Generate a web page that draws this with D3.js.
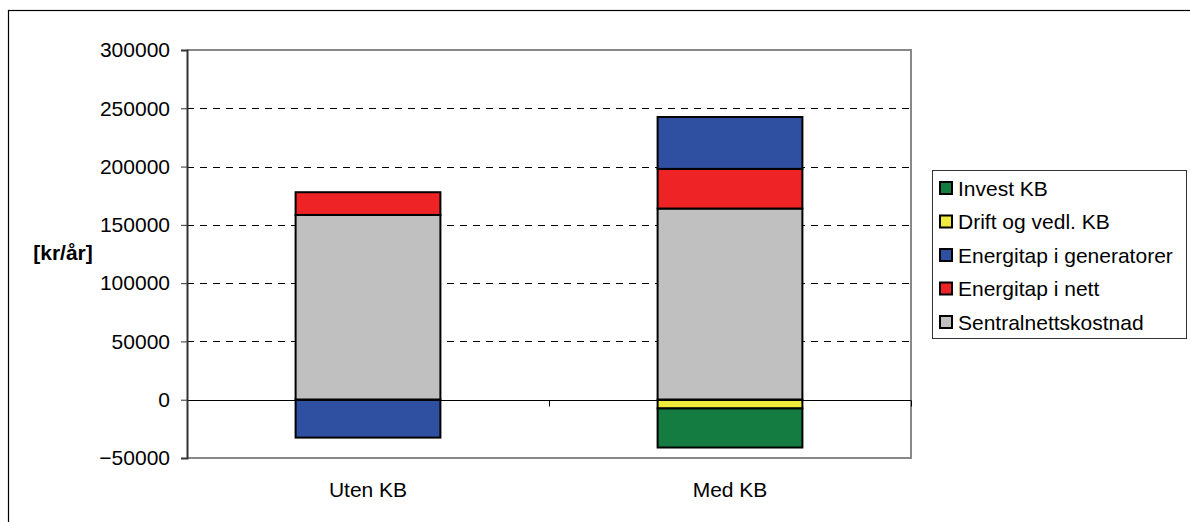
<!DOCTYPE html>
<html>
<head>
<meta charset="utf-8">
<script src="https://cdn.jsdelivr.net/npm/d3@7"></script>
<style>
  body { margin: 0; background: #fff; }
  svg { display: block; font-family: "Liberation Sans", Arial, sans-serif; }
</style>
</head>
<body>
<svg id="vis" width="1190" height="522"></svg>
<script>
// chart data
const categories = ["Uten KB", "Med KB"];
const seriesNames = ["Sentralnettskostnad", "Energitap i nett", "Energitap i generatorer", "Drift og vedl. KB", "Invest KB"];
const sentralnett = [158500, 164000];
const tapNett = [19500, 34000];
const tapGenerator = [-32500, 44500];
const driftKB = [0, -7500];
const investKB = [0, -33500];
const yTicks = [-50000, 0, 50000, 100000, 150000, 200000, 250000, 300000];

const colors = {
  "Sentralnettskostnad": "#c0c0c0",
  "Energitap i nett": "#ee2326",
  "Energitap i generatorer": "#2f4fa0",
  "Drift og vedl. KB": "#efeb3d",
  "Invest KB": "#147c40"
};

const fontSize = 21;

const seriesValues = [sentralnett, tapNett, tapGenerator, driftKB, investKB];
const rows = categories.map((c, i) => {
  const r = { cat: c };
  seriesNames.forEach((s, j) => r[s] = seriesValues[j][i]);
  return r;
});

const svg = d3.select("svg#vis");
const plot = { left: 187, right: 911, top: 50, bottom: 458 };

// outer frame (only top/left visible)
svg.append("rect")
  .attr("x", 8.5).attr("y", 10.5)
  .attr("width", 1200).attr("height", 600)
  .attr("fill", "none").attr("stroke", "#000").attr("stroke-width", 1.2);

const x = d3.scaleBand()
  .domain(categories)
  .range([plot.left, plot.right])
  .paddingInner(0.6)
  .paddingOuter(0.3);

const y = d3.scaleLinear()
  .domain([-50000, 300000])
  .range([plot.bottom, plot.top]);

// gridlines
svg.append("g").selectAll("line")
  .data(yTicks.filter(d => d > 0 && d < 300000))
  .enter().append("line")
  .attr("x1", plot.left).attr("x2", plot.right)
  .attr("y1", d => Math.round(y(d)) + 0.5).attr("y2", d => Math.round(y(d)) + 0.5)
  .attr("stroke", "#000").attr("stroke-width", 1)
  .attr("stroke-dasharray", "7,6");

// plot border top/right/bottom
svg.append("path")
  .attr("d", `M${plot.left},${plot.top}H${plot.right}V${plot.bottom}H${plot.left}`)
  .attr("fill", "none").attr("stroke", "#888").attr("stroke-width", 2);

// stacked bars
const stack = d3.stack().keys(seriesNames).offset(d3.stackOffsetDiverging);
const stacked = stack(rows);

svg.append("g").selectAll("g")
  .data(stacked)
  .enter().append("g")
  .attr("fill", d => colors[d.key])
  .selectAll("rect")
  .data(d => d.filter(p => p[1] !== p[0]))
  .enter().append("rect")
  .attr("x", d => x(d.data.cat))
  .attr("width", x.bandwidth())
  .attr("y", d => y(d[1]))
  .attr("height", d => y(d[0]) - y(d[1]))
  .attr("stroke", "#000").attr("stroke-width", 2);

// zero line
const y0 = Math.round(y(0)) + 0.5;
svg.append("line")
  .attr("x1", plot.left).attr("x2", plot.right)
  .attr("y1", y0).attr("y2", y0)
  .attr("stroke", "#000").attr("stroke-width", 1);

// category tick marks on the zero line
const step = x.step();
const catTicks = d3.range(categories.length + 1).map(i => plot.left + i * step);
svg.append("g").selectAll("line")
  .data(catTicks)
  .enter().append("line")
  .attr("x1", d => Math.round(d) + 0.5).attr("x2", d => Math.round(d) + 0.5)
  .attr("y1", y0).attr("y2", y0 + 6)
  .attr("stroke", "#000").attr("stroke-width", 1);

// y axis
const yAxis = d3.axisLeft(y)
  .tickValues(yTicks)
  .tickSize(6)
  .tickPadding(11)
  .tickFormat(d3.format("d"));

const yGroup = svg.append("g")
  .attr("transform", `translate(${plot.left},0)`)
  .call(yAxis);
yGroup.select(".domain").attr("stroke", "#333").attr("stroke-width", 2);
yGroup.selectAll(".tick line").attr("stroke", "#333");
yGroup.selectAll("text")
  .attr("font-size", fontSize)
  .attr("font-family", "Liberation Sans, Arial, sans-serif")
  .attr("fill", "#000");

// category labels
svg.append("g").selectAll("text")
  .data(categories)
  .enter().append("text")
  .attr("x", d => x(d) + x.bandwidth() / 2)
  .attr("y", 497)
  .attr("text-anchor", "middle")
  .attr("font-size", fontSize)
  .text(d => d);

// y axis title
svg.append("text")
  .attr("x", 63).attr("y", 260)
  .attr("text-anchor", "middle")
  .attr("font-size", fontSize)
  .attr("font-weight", "bold")
  .text("[kr/år]");

// legend
const legendItems = seriesNames.slice().reverse();
const legend = svg.append("g").attr("transform", "translate(932,170)");
legend.append("rect")
  .attr("x", 0.5).attr("y", 0.5)
  .attr("width", 254).attr("height", 168)
  .attr("fill", "#fff").attr("stroke", "#333").attr("stroke-width", 1);

const li = legend.selectAll("g.item")
  .data(legendItems)
  .enter().append("g")
  .attr("class", "item")
  .attr("transform", (d, i) => `translate(0,${18 + i * 33.5})`);

li.append("rect")
  .attr("x", 8).attr("y", -6)
  .attr("width", 12).attr("height", 12)
  .attr("fill", d => colors[d])
  .attr("stroke", "#000").attr("stroke-width", 2);

li.append("text")
  .attr("x", 26).attr("y", 7.5)
  .attr("font-size", fontSize)
  .text(d => d);
</script>
</body>
</html>
